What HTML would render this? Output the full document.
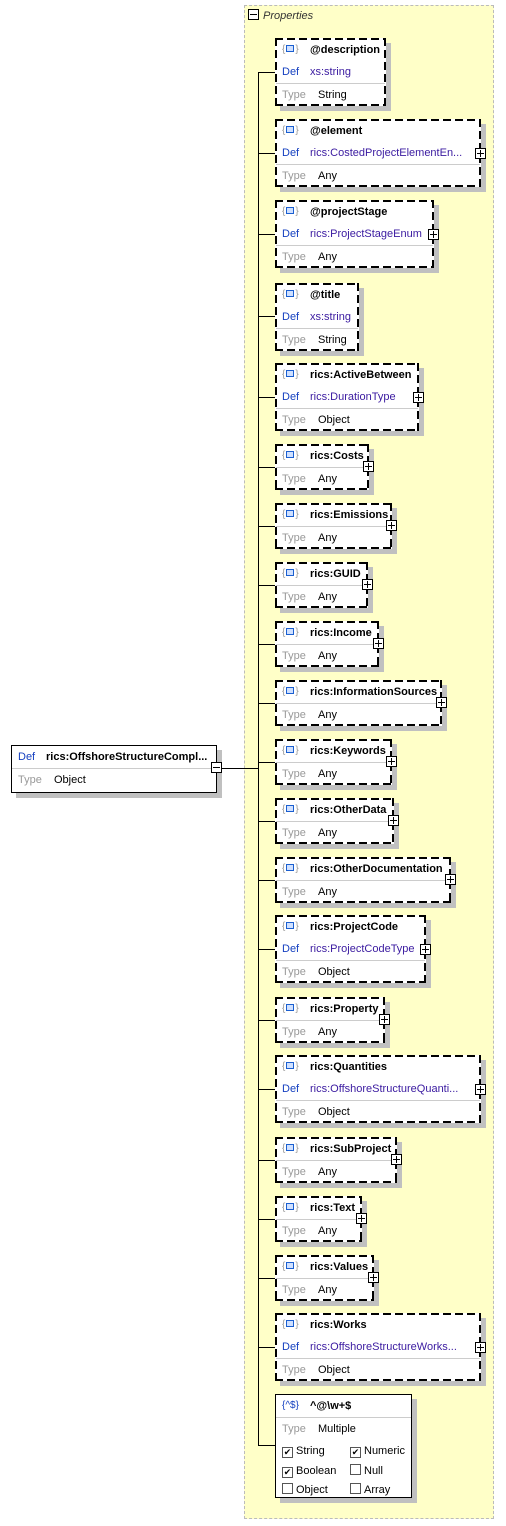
<!DOCTYPE html>
<html><head><meta charset="utf-8"><style>
body{margin:0;width:506px;height:1526px;background:#fff;position:relative;font-family:"Liberation Sans",sans-serif;font-size:11px;overflow:hidden}
.grp{position:absolute;left:244px;top:5px;width:250px;height:1514px;background:#ffffc8;border:1px dashed #bbb;box-sizing:border-box}
.gl{position:absolute;left:248px;top:9px;font-style:italic;color:#333;font-size:11px}
.gl span{display:inline-block;width:9px;height:9px;border:1px solid #000;vertical-align:-1px;margin-right:4px;position:relative;background:#fff}
.gl span:after{content:"";position:absolute;left:1px;top:4px;width:7px;height:1px;background:#000}
.n{position:absolute;left:275px;box-sizing:border-box;box-shadow:5px 5px 0 #c0c0c0;padding:1px;
background:
repeating-linear-gradient(90deg,#000 0 8px,transparent 8px 12px) left top/100% 2px no-repeat,
repeating-linear-gradient(90deg,#000 0 8px,transparent 8px 12px) left bottom/100% 2px no-repeat,
repeating-linear-gradient(180deg,#000 0 8px,transparent 8px 12px) left top/2px 100% no-repeat,
repeating-linear-gradient(180deg,#000 0 8px,transparent 8px 12px) right top/2px 100% no-repeat,
#fff}
.n.s{background:#fff;border:1px solid #000;padding:0}
.r{height:22px;line-height:22px;position:relative;white-space:nowrap}
.ic{position:absolute;left:6px;color:#999;font-size:10px}
.ic i{display:inline-block;width:6px;height:5px;border:1px solid #1a5fd0;background:#cfe0ff;margin:0 1px;vertical-align:0}
.h{position:absolute;left:34px;font-weight:bold;color:#000}
.k{position:absolute;left:6px;color:#999}
.kd{position:absolute;left:6px;color:#1540c0}
.v{position:absolute;left:42px;color:#000}
.vd{position:absolute;left:34px;color:#3a1aa0}
.sep{border-top:1px solid #ccc}
.p{position:absolute;width:9px;height:9px;border:1px solid #000;background:#fff}
.p:before{content:"";position:absolute;left:1px;top:4px;width:7px;height:1px;background:#000}
.p:after{content:"";position:absolute;left:4px;top:1px;width:1px;height:7px;background:#000}
.mm:after{display:none}
.ln{position:absolute;background:#000}
.cb{display:inline-block;width:9px;height:9px;border:1px solid #555;vertical-align:-1px;margin-right:3px;font-size:9px;line-height:9px;text-align:center}
</style></head><body>
<div class="grp"></div>
<div class="gl"><span></span>Properties</div>
<div class="ln" style="left:258px;top:72px;width:1px;height:1373px"></div>
<div class="ln" style="left:222px;top:768px;width:36px;height:1px"></div>

<div class="n s" style="left:11px;top:745px;width:206px;height:48px">
<div class="r"><span class="kd">Def</span><span class="h" style="left:34px">rics:OffshoreStructureCompl...</span></div>
<div class="r sep"><span class="k">Type</span><span class="v">Object</span></div></div>
<div class="p mm" style="left:211px;top:762px"></div>

<div class="ln" style="left:258px;top:72px;width:17px;height:1px"></div>
<div class="ln" style="left:258px;top:153px;width:17px;height:1px"></div>
<div class="ln" style="left:258px;top:234px;width:17px;height:1px"></div>
<div class="ln" style="left:258px;top:316px;width:17px;height:1px"></div>
<div class="ln" style="left:258px;top:397px;width:17px;height:1px"></div>
<div class="ln" style="left:258px;top:467px;width:17px;height:1px"></div>
<div class="ln" style="left:258px;top:526px;width:17px;height:1px"></div>
<div class="ln" style="left:258px;top:585px;width:17px;height:1px"></div>
<div class="ln" style="left:258px;top:644px;width:17px;height:1px"></div>
<div class="ln" style="left:258px;top:703px;width:17px;height:1px"></div>
<div class="ln" style="left:258px;top:762px;width:17px;height:1px"></div>
<div class="ln" style="left:258px;top:821px;width:17px;height:1px"></div>
<div class="ln" style="left:258px;top:880px;width:17px;height:1px"></div>
<div class="ln" style="left:258px;top:949px;width:17px;height:1px"></div>
<div class="ln" style="left:258px;top:1020px;width:17px;height:1px"></div>
<div class="ln" style="left:258px;top:1089px;width:17px;height:1px"></div>
<div class="ln" style="left:258px;top:1160px;width:17px;height:1px"></div>
<div class="ln" style="left:258px;top:1219px;width:17px;height:1px"></div>
<div class="ln" style="left:258px;top:1278px;width:17px;height:1px"></div>
<div class="ln" style="left:258px;top:1347px;width:17px;height:1px"></div>
<div class="ln" style="left:258px;top:1445px;width:17px;height:1px"></div>

<div class="n" style="top:38px;width:111px;height:68px"><div class="r"><span class="ic">{<i></i>}</span><span class="h">@description</span></div><div class="r"><span class="kd">Def</span><span class="vd">xs:string</span></div><div class="r sep"><span class="k">Type</span><span class="v">String</span></div></div>
<div class="n" style="top:119px;width:206px;height:68px"><div class="r"><span class="ic">{<i></i>}</span><span class="h">@element</span></div><div class="r"><span class="kd">Def</span><span class="vd">rics:CostedProjectElementEn...</span></div><div class="r sep"><span class="k">Type</span><span class="v">Any</span></div></div>
<div class="p" style="left:475px;top:148px"></div>
<div class="n" style="top:200px;width:159px;height:68px"><div class="r"><span class="ic">{<i></i>}</span><span class="h">@projectStage</span></div><div class="r"><span class="kd">Def</span><span class="vd">rics:ProjectStageEnum</span></div><div class="r sep"><span class="k">Type</span><span class="v">Any</span></div></div>
<div class="p" style="left:428px;top:229px"></div>
<div class="n" style="top:283px;width:84px;height:68px"><div class="r"><span class="ic">{<i></i>}</span><span class="h">@title</span></div><div class="r"><span class="kd">Def</span><span class="vd">xs:string</span></div><div class="r sep"><span class="k">Type</span><span class="v">String</span></div></div>
<div class="n" style="top:363px;width:144px;height:68px"><div class="r"><span class="ic">{<i></i>}</span><span class="h">rics:ActiveBetween</span></div><div class="r"><span class="kd">Def</span><span class="vd">rics:DurationType</span></div><div class="r sep"><span class="k">Type</span><span class="v">Object</span></div></div>
<div class="p" style="left:413px;top:392px"></div>

<div class="n" style="top:444px;width:94px;height:46px"><div class="r"><span class="ic">{<i></i>}</span><span class="h">rics:Costs</span></div><div class="r sep"><span class="k">Type</span><span class="v">Any</span></div></div><div class="p" style="left:363px;top:461px"></div>
<div class="n" style="top:503px;width:117px;height:46px"><div class="r"><span class="ic">{<i></i>}</span><span class="h">rics:Emissions</span></div><div class="r sep"><span class="k">Type</span><span class="v">Any</span></div></div><div class="p" style="left:386px;top:520px"></div>
<div class="n" style="top:562px;width:93px;height:46px"><div class="r"><span class="ic">{<i></i>}</span><span class="h">rics:GUID</span></div><div class="r sep"><span class="k">Type</span><span class="v">Any</span></div></div><div class="p" style="left:362px;top:579px"></div>
<div class="n" style="top:621px;width:104px;height:46px"><div class="r"><span class="ic">{<i></i>}</span><span class="h">rics:Income</span></div><div class="r sep"><span class="k">Type</span><span class="v">Any</span></div></div><div class="p" style="left:373px;top:638px"></div>
<div class="n" style="top:680px;width:167px;height:46px"><div class="r"><span class="ic">{<i></i>}</span><span class="h">rics:InformationSources</span></div><div class="r sep"><span class="k">Type</span><span class="v">Any</span></div></div><div class="p" style="left:436px;top:697px"></div>
<div class="n" style="top:739px;width:117px;height:46px"><div class="r"><span class="ic">{<i></i>}</span><span class="h">rics:Keywords</span></div><div class="r sep"><span class="k">Type</span><span class="v">Any</span></div></div><div class="p" style="left:386px;top:756px"></div>
<div class="n" style="top:798px;width:119px;height:46px"><div class="r"><span class="ic">{<i></i>}</span><span class="h">rics:OtherData</span></div><div class="r sep"><span class="k">Type</span><span class="v">Any</span></div></div><div class="p" style="left:388px;top:815px"></div>
<div class="n" style="top:857px;width:176px;height:46px"><div class="r"><span class="ic">{<i></i>}</span><span class="h">rics:OtherDocumentation</span></div><div class="r sep"><span class="k">Type</span><span class="v">Any</span></div></div><div class="p" style="left:445px;top:874px"></div>

<div class="n" style="top:915px;width:151px;height:68px"><div class="r"><span class="ic">{<i></i>}</span><span class="h">rics:ProjectCode</span></div><div class="r"><span class="kd">Def</span><span class="vd">rics:ProjectCodeType</span></div><div class="r sep"><span class="k">Type</span><span class="v">Object</span></div></div><div class="p" style="left:420px;top:944px"></div>
<div class="n" style="top:997px;width:110px;height:46px"><div class="r"><span class="ic">{<i></i>}</span><span class="h">rics:Property</span></div><div class="r sep"><span class="k">Type</span><span class="v">Any</span></div></div><div class="p" style="left:379px;top:1014px"></div>
<div class="n" style="top:1055px;width:206px;height:68px"><div class="r"><span class="ic">{<i></i>}</span><span class="h">rics:Quantities</span></div><div class="r"><span class="kd">Def</span><span class="vd">rics:OffshoreStructureQuanti...</span></div><div class="r sep"><span class="k">Type</span><span class="v">Object</span></div></div><div class="p" style="left:475px;top:1084px"></div>
<div class="n" style="top:1137px;width:122px;height:46px"><div class="r"><span class="ic">{<i></i>}</span><span class="h">rics:SubProject</span></div><div class="r sep"><span class="k">Type</span><span class="v">Any</span></div></div><div class="p" style="left:391px;top:1154px"></div>
<div class="n" style="top:1196px;width:87px;height:46px"><div class="r"><span class="ic">{<i></i>}</span><span class="h">rics:Text</span></div><div class="r sep"><span class="k">Type</span><span class="v">Any</span></div></div><div class="p" style="left:356px;top:1213px"></div>
<div class="n" style="top:1255px;width:99px;height:46px"><div class="r"><span class="ic">{<i></i>}</span><span class="h">rics:Values</span></div><div class="r sep"><span class="k">Type</span><span class="v">Any</span></div></div><div class="p" style="left:368px;top:1272px"></div>
<div class="n" style="top:1313px;width:206px;height:68px"><div class="r"><span class="ic">{<i></i>}</span><span class="h">rics:Works</span></div><div class="r"><span class="kd">Def</span><span class="vd">rics:OffshoreStructureWorks...</span></div><div class="r sep"><span class="k">Type</span><span class="v">Object</span></div></div><div class="p" style="left:475px;top:1342px"></div>

<div class="n s" style="top:1394px;width:137px;height:104px">
<div class="r"><span class="ic" style="color:#1540c0">{^$}</span><span class="h">^@\w+$</span></div>
<div class="r sep"><span class="k">Type</span><span class="v">Multiple</span></div>
<div class="r"><span style="position:absolute;left:6px"><span class="cb">✔</span>String</span><span style="position:absolute;left:74px"><span class="cb">✔</span>Numeric</span></div>
<div class="r" style="height:19px;line-height:19px"><span style="position:absolute;left:6px"><span class="cb">✔</span>Boolean</span><span style="position:absolute;left:74px"><span class="cb"></span>Null</span></div>
<div class="r" style="height:19px;line-height:19px"><span style="position:absolute;left:6px"><span class="cb"></span>Object</span><span style="position:absolute;left:74px"><span class="cb"></span>Array</span></div>
</div>
</body></html>
